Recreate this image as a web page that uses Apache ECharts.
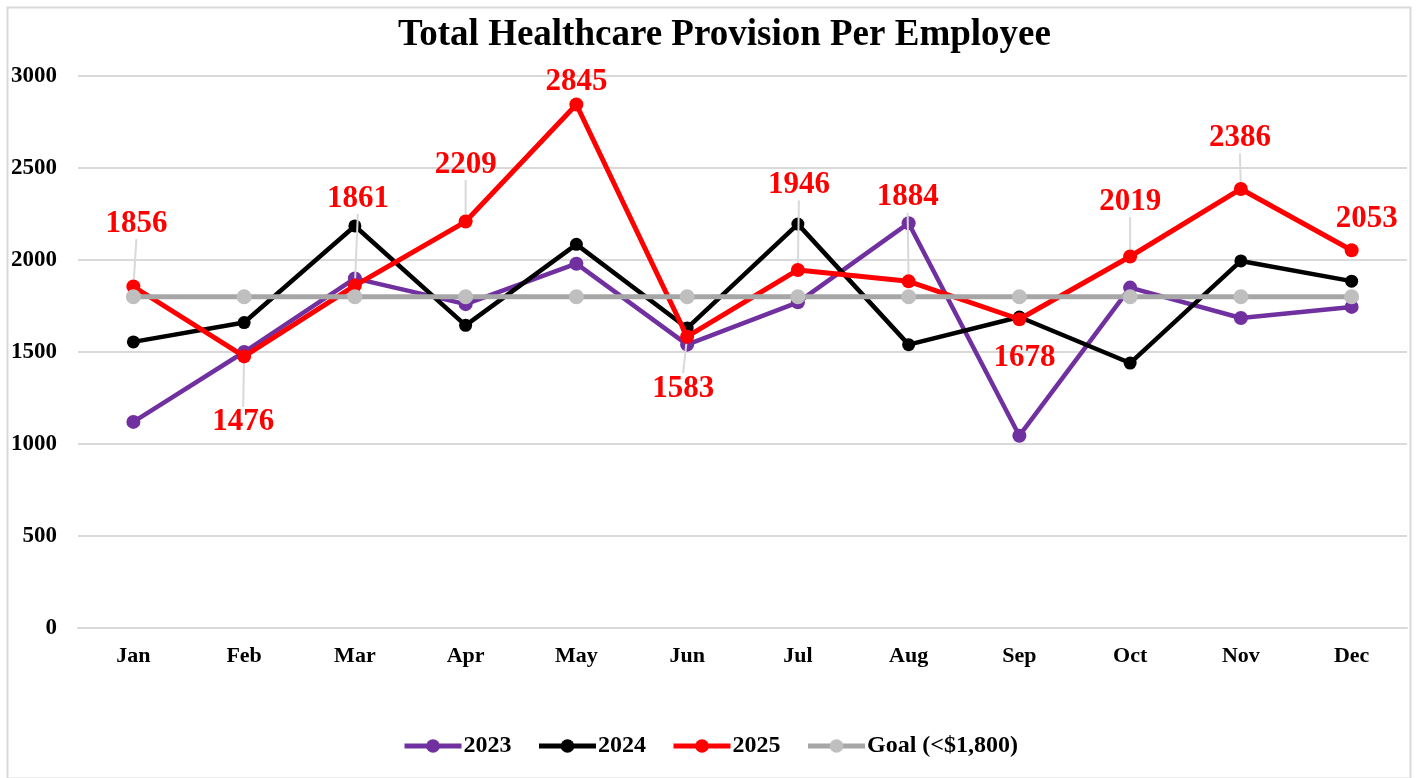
<!DOCTYPE html>
<html>
<head>
<meta charset="utf-8">
<script src="https://cdn.jsdelivr.net/npm/echarts@6/dist/echarts.min.js"></script>
<style>
html,body{margin:0;padding:0;background:#fff;}
#chart{width:1417px;height:778px;}
</style>
</head>
<body>
<div id="chart"></div>
<script>
// ---- data ----
var months = ['Jan','Feb','Mar','Apr','May','Jun','Jul','Aug','Sep','Oct','Nov','Dec'];
var values2023 = [1120, 1500, 1900, 1760, 1980, 1540, 1770, 2200, 1045, 1850, 1685, 1745];
var values2024 = [1555, 1660, 2185, 1645, 2085, 1630, 2195, 1540, 1690, 1440, 1995, 1885];
var values2025 = [1856, 1476, 1861, 2209, 2845, 1583, 1946, 1884, 1678, 2019, 2386, 2053];
var goalValues = [1800, 1800, 1800, 1800, 1800, 1800, 1800, 1800, 1800, 1800, 1800, 1800];
var seriesNames = ['2023', '2024', '2025', 'Goal (<$1,800)'];
var yTicks = [0, 500, 1000, 1500, 2000, 2500, 3000];

// label style (not data): [dx, dy] of each 2025 label centre from its point, and whether a leader line is drawn
var labelOffsets = [[3,-63],[-1,66],[3,-87],[0,-57],[0,-23],[-4,52],[1,-85],[-1,-84],[5,39],[0,-55],[-1,-51],[15,-31]];
var leaderShown = [true, true, true, true, false, true, true, true, false, true, true, false];

var FONT = '"Liberation Serif", "Times New Roman", serif';
var chart = echarts.init(document.getElementById('chart'), null, {renderer: 'canvas'});

function lineSeries(name, data, color, width, symSize, symColor, z) {
  return {
    name: name,
    type: 'line',
    data: data,
    symbol: 'circle',
    symbolSize: symSize,
    showAllSymbol: true,
    z: z,
    lineStyle: {color: color, width: width},
    itemStyle: {color: symColor || color, borderWidth: 0},
    emphasis: {disabled: true},
    animation: false
  };
}

var data2025 = values2025.map(function (v, i) {
  return {value: v, labelLine: {show: leaderShown[i]}};
});
var s2025 = lineSeries(seriesNames[2], data2025, '#ff0000', 5, 14, null, 4);
s2025.label = {
  show: true,
  position: 'inside',
  color: '#ff0000',
  fontFamily: FONT,
  fontWeight: 'bold',
  fontSize: 31,
  padding: [12, 2, 12, 2]
};
s2025.labelLine = {show: true, lineStyle: {color: '#d9d9d9', width: 2}};
s2025.labelLayout = function (p) {
  var o = labelOffsets[p.dataIndex];
  return {dx: o[0], dy: o[1], hideOverlap: false};
};

var option = {
  backgroundColor: '#ffffff',
  animation: false,
  title: {
    text: 'Total Healthcare Provision Per Employee',
    left: 398,
    top: 17,
    padding: 0,
    textStyle: {fontFamily: FONT, fontWeight: 'bold', fontSize: 37, color: '#000'}
  },
  graphic: [{
    type: 'rect',
    left: 5, top: 5,
    shape: {width: 1403, height: 771},
    style: {fill: 'none', stroke: '#d9d9d9', lineWidth: 2},
    silent: true,
    z: -1
  }],
  legend: {
    data: seriesNames,
    bottom: 15,
    left: 397,
    itemWidth: 57,
    itemHeight: 17,
    itemGap: 25,
    lineStyle: {width: 5},
    textStyle: {fontFamily: FONT, fontWeight: 'bold', fontSize: 24, color: '#000', padding: [0,0,0,-3]}
  },
  grid: {left: 78, right: 10, top: 76, bottom: 150, containLabel: false},
  xAxis: {
    type: 'category',
    data: months,
    boundaryGap: true,
    axisLine: {show: true, lineStyle: {color: '#d9d9d9', width: 2}},
    axisTick: {show: false},
    axisLabel: {fontFamily: FONT, fontWeight: 'bold', fontSize: 22, color: '#000', margin: 17}
  },
  yAxis: {
    type: 'value',
    min: yTicks[0],
    max: yTicks[yTicks.length - 1],
    interval: yTicks[1] - yTicks[0],
    axisLine: {show: false},
    axisTick: {show: false},
    splitLine: {lineStyle: {color: '#d9d9d9', width: 2}},
    axisLabel: {
      fontFamily: FONT, fontWeight: 'bold', fontSize: 23, color: '#000', margin: 21,
      formatter: function (v) { return String(v); }
    }
  },
  series: [
    lineSeries(seriesNames[0], values2023, '#7030a0', 4.5, 14, null, 2),
    lineSeries(seriesNames[1], values2024, '#000000', 4.5, 13, null, 3),
    s2025,
    lineSeries(seriesNames[3], goalValues, '#a6a6a6', 5, 15, '#bfbfbf', 5)
  ]
};
chart.setOption(option);
</script>
</body>
</html>
